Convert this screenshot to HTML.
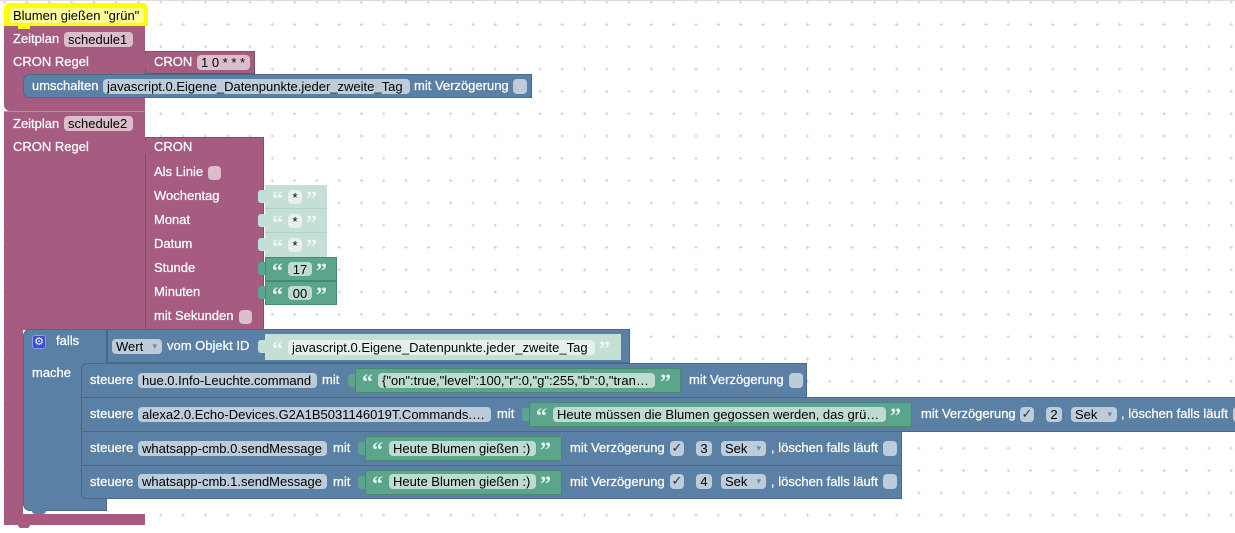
<!DOCTYPE html>
<html><head><meta charset="utf-8">
<style>
html,body{margin:0;padding:0;}
body{width:1235px;height:533px;position:relative;overflow:hidden;background:#fff;font-family:"Liberation Sans",sans-serif;}
.b{position:absolute;box-sizing:border-box;}
.p{background:#a65b80;}
.bl{background:#5b80a5;}
.g{background:#5ba58c;}
.sg{background:#c4dfd5;}
.bd{border:1px solid rgba(0,0,0,.18);}
.t{position:absolute;color:#fff;font-size:13px;line-height:16px;height:16px;white-space:nowrap;-webkit-text-stroke:0.25px #fff;}
.f{position:absolute;box-sizing:border-box;height:15px;border-radius:4px;color:#000;font-size:13px;line-height:15px;padding-left:4px;white-space:nowrap;overflow:hidden;}
.fc{padding-left:0;text-align:center;}
.fp{background:#dbbdcc;}
.fb{background:#bdccdb;}
.fg{background:#bddbd1;}
.fs{background:#e6f1ed;}
.fy{background:#ffff99;}
.q{position:absolute;font:bold 22px/24px "Liberation Serif",serif;color:rgba(255,255,255,.85);height:24px;}
.qs{color:rgba(255,255,255,.75);}
.tab{position:absolute;width:7px;height:13px;border-radius:3px 0 0 3px;}
.cb{position:absolute;box-sizing:border-box;width:14px;height:15px;border-radius:4px;background:#bdccdb;color:#333;font:13px/15px "DejaVu Sans",sans-serif;text-align:center;}
.ar{color:#7a8799;font-size:9px;position:absolute;right:5px;top:0;}
</style></head><body>

<svg width="1235" height="533" style="position:absolute;left:0;top:0">
<defs><pattern id="gr" patternUnits="userSpaceOnUse" x="3.2" y="0.7" width="22.3" height="22.3">
<path d="M0 1.5H3M1.5 0V3" stroke="#cfcfcf" stroke-width="1" fill="none"/></pattern></defs>
<rect width="1235" height="533" fill="url(#gr)"/>
<line x1="0" y1="0.5" x2="1235" y2="0.5" stroke="#dcdcdc"/>
</svg>

<!-- yellow comment -->
<div class="b" style="left:4px;top:3px;width:144px;height:23px;background:#ffff00;border-radius:6px 6px 0 0"></div>
<div class="b" style="left:18px;top:25px;width:12px;height:4px;background:#ffff00"></div>
<div class="f fy" style="left:9px;top:8px;width:135px">Blumen gießen "grün"</div>

<!-- schedule1 -->
<div class="b p" style="left:4px;top:26px;width:141px;height:85px;border-radius:0 0 0 6px"></div>
<div class="b" style="left:18px;top:26px;width:12px;height:3px;background:#ffff00"></div>
<div class="t" style="left:13px;top:31px">Zeitplan</div>
<div class="f fp" style="left:64px;top:32px;width:69px">schedule1</div>
<div class="t" style="left:13px;top:54px">CRON Regel</div>
<div class="b p bd" style="left:145px;top:51px;width:110px;height:23px"></div>
<div class="tab p" style="left:139px;top:55px"></div>
<div class="t" style="left:154px;top:54px">CRON</div>
<div class="f fp" style="left:197px;top:55px;width:53px">1 0 * * *</div>

<div class="b bl bd" style="left:23px;top:74px;width:509px;height:24px;border-radius:7px 0 0 7px"></div>
<div class="t" style="left:32px;top:78px">umschalten</div>
<div class="f fb" style="left:103px;top:79px;width:307px">javascript.0.Eigene_Datenpunkte.jeder_zweite_Tag</div>
<div class="t" style="left:414px;top:78px">mit Verzögerung</div>
<div class="cb" style="left:513px;top:79px"></div>

<!-- schedule2 -->
<div class="b p" style="left:4px;top:112px;width:141px;height:218px"></div>
<div class="b" style="left:4px;top:111px;width:141px;height:1px;background:#c08aa5"></div>
<div class="b p" style="left:4px;top:329px;width:19px;height:196px"></div>
<div class="b p" style="left:4px;top:514px;width:141px;height:11px;border-radius:0 0 0 7px"></div>
<div class="b p" style="left:18px;top:524px;width:12px;height:4px;border-radius:0 0 3px 3px"></div>
<div class="t" style="left:13px;top:116px">Zeitplan</div>
<div class="f fp" style="left:64px;top:116px;width:69px">schedule2</div>
<div class="t" style="left:13px;top:139px">CRON Regel</div>

<div class="b p bd" style="left:145px;top:137px;width:119px;height:193px"></div>
<div class="tab p" style="left:139px;top:141px"></div>
<div class="t" style="left:154px;top:139px">CRON</div>
<div class="t" style="left:154px;top:164px">Als Linie</div>
<div class="cb fp" style="left:208px;top:166px;width:13px;height:14px;background:#dbbdcc"></div>
<div class="t" style="left:154px;top:188px">Wochentag</div>
<div class="t" style="left:154px;top:212px">Monat</div>
<div class="t" style="left:154px;top:236px">Datum</div>
<div class="t" style="left:154px;top:260px">Stunde</div>
<div class="t" style="left:154px;top:284px">Minuten</div>
<div class="t" style="left:154px;top:308px">mit Sekunden</div>
<div class="cb" style="left:239px;top:310px;width:13px;height:14px;background:#dbbdcc"></div>

<!-- shadow text blocks -->
<div class="b sg" style="left:265px;top:185px;width:62px;height:24px;border-bottom:1px solid #b3d2c6"></div>
<div class="tab sg" style="left:258px;top:190px"></div>
<div class="q qs" style="left:272px;top:187px">“</div>
<div class="f fs fc" style="left:288px;top:190px;width:14px;height:14px;line-height:15px">*</div>
<div class="q qs" style="left:306px;top:187px">”</div>

<div class="b sg" style="left:265px;top:209px;width:62px;height:24px;border-bottom:1px solid #b3d2c6"></div>
<div class="tab sg" style="left:258px;top:214px"></div>
<div class="q qs" style="left:272px;top:211px">“</div>
<div class="f fs fc" style="left:288px;top:214px;width:14px;height:14px;line-height:15px">*</div>
<div class="q qs" style="left:306px;top:211px">”</div>

<div class="b sg" style="left:265px;top:233px;width:62px;height:24px"></div>
<div class="tab sg" style="left:258px;top:238px"></div>
<div class="q qs" style="left:272px;top:235px">“</div>
<div class="f fs fc" style="left:288px;top:238px;width:14px;height:14px;line-height:15px">*</div>
<div class="q qs" style="left:306px;top:235px">”</div>

<!-- green text blocks -->
<div class="b g bd" style="left:265px;top:257px;width:72px;height:24px"></div>
<div class="tab g" style="left:258px;top:262px"></div>
<div class="q" style="left:272px;top:259px">“</div>
<div class="f fg fc" style="left:288px;top:262px;width:24px;height:14px;line-height:15px">17</div>
<div class="q" style="left:316px;top:259px">”</div>

<div class="b g bd" style="left:265px;top:281px;width:72px;height:24px"></div>
<div class="tab g" style="left:258px;top:286px"></div>
<div class="q" style="left:272px;top:283px">“</div>
<div class="f fg fc" style="left:288px;top:286px;width:24px;height:14px;line-height:15px">00</div>
<div class="q" style="left:316px;top:283px">”</div>

<!-- falls block -->
<div class="b bl bd" style="left:23px;top:329px;width:84px;height:182px;border-radius:7px 0 0 7px"></div>
<div class="b bl" style="left:32px;top:510px;width:14px;height:4px;border-radius:0 0 3px 3px"></div>
<div class="b" style="left:32px;top:335px;width:14px;height:14px;background:#3b4fd6;border:1px solid #8d9ae6;border-radius:3px;color:#fff;font:11px/12px 'DejaVu Sans',sans-serif;text-align:center">⚙</div>
<div class="t" style="left:56px;top:333px">falls</div>
<div class="t" style="left:32px;top:365px">mache</div>

<div class="b bl bd" style="left:107px;top:329px;width:523px;height:34px"></div>
<div class="f fb" style="left:112px;top:339px;width:50px">Wert<span class="ar">▾</span></div>
<div class="t" style="left:167px;top:338px">vom Objekt ID</div>
<div class="tab sg" style="left:258px;top:340px"></div>
<div class="b sg" style="left:265px;top:334px;width:356px;height:26px"></div>
<div class="q qs" style="left:272px;top:337px">“</div>
<div class="f fs" style="left:288px;top:339.5px;width:307px">javascript.0.Eigene_Datenpunkte.jeder_zweite_Tag</div>
<div class="q qs" style="left:599px;top:337px">”</div>

<!-- row A -->
<div class="b bl bd" style="left:81px;top:363px;width:726px;height:35px;border-radius:6px 0 0 0"></div>
<div class="t" style="left:90px;top:372px">steuere</div>
<div class="f fb" style="left:138px;top:372.5px;width:179px">hue.0.Info-Leuchte.command</div>
<div class="t" style="left:322px;top:372px">mit</div>
<div class="tab g" style="left:348px;top:374px"></div>
<div class="b g bd" style="left:355px;top:368px;width:326px;height:25px"></div>
<div class="q" style="left:362px;top:370px">“</div>
<div class="f fg" style="left:378px;top:372.5px;width:277px">{"on":true,"level":100,"r":0,"g":255,"b":0,"tran…</div>
<div class="q" style="left:660px;top:370px">”</div>
<div class="t" style="left:689px;top:372px">mit Verzögerung</div>
<div class="cb" style="left:789px;top:372.5px"></div>

<!-- row B -->
<div class="b bl bd" style="left:81px;top:397px;width:1170px;height:35px"></div>
<div class="t" style="left:90px;top:406px">steuere</div>
<div class="f fb" style="left:138px;top:406.5px;width:353px">alexa2.0.Echo-Devices.G2A1B5031146019T.Commands.…</div>
<div class="t" style="left:497px;top:406px">mit</div>
<div class="tab g" style="left:522px;top:408px"></div>
<div class="b g bd" style="left:529px;top:402px;width:383px;height:25px"></div>
<div class="q" style="left:536px;top:404px">“</div>
<div class="f fg" style="left:553px;top:406.5px;width:333px">Heute müssen die Blumen gegossen werden, das grü…</div>
<div class="q" style="left:890px;top:404px">”</div>
<div class="t" style="left:921px;top:406px">mit Verzögerung</div>
<div class="cb" style="left:1020px;top:406.5px">✓</div>
<div class="f fb fc" style="left:1046px;top:406.5px;width:16px">2</div>
<div class="f fb" style="left:1071px;top:406.5px;width:46px">Sek<span class="ar">▾</span></div>
<div class="t" style="left:1121px;top:406px">, löschen falls läuft</div>
<div class="cb" style="left:1233px;top:406.5px"></div>

<!-- row C -->
<div class="b bl bd" style="left:81px;top:431px;width:821px;height:35px"></div>
<div class="t" style="left:90px;top:440px">steuere</div>
<div class="f fb" style="left:138px;top:440.5px;width:189px">whatsapp-cmb.0.sendMessage</div>
<div class="t" style="left:333px;top:440px">mit</div>
<div class="tab g" style="left:358px;top:442px"></div>
<div class="b g bd" style="left:365px;top:436px;width:197px;height:25px"></div>
<div class="q" style="left:372px;top:438px">“</div>
<div class="f fg" style="left:389px;top:440.5px;width:147px">Heute Blumen gießen :)</div>
<div class="q" style="left:540px;top:438px">”</div>
<div class="t" style="left:570px;top:440px">mit Verzögerung</div>
<div class="cb" style="left:670px;top:440.5px">✓</div>
<div class="f fb fc" style="left:696px;top:440.5px;width:16px">3</div>
<div class="f fb" style="left:721px;top:440.5px;width:45px">Sek<span class="ar">▾</span></div>
<div class="t" style="left:771px;top:440px">, löschen falls läuft</div>
<div class="cb" style="left:883px;top:440.5px"></div>

<!-- row D -->
<div class="b bl bd" style="left:81px;top:465px;width:821px;height:34px;border-radius:0 0 0 6px"></div>
<div class="t" style="left:90px;top:473.5px">steuere</div>
<div class="f fb" style="left:138px;top:474px;width:189px">whatsapp-cmb.1.sendMessage</div>
<div class="t" style="left:333px;top:473.5px">mit</div>
<div class="tab g" style="left:358px;top:475.5px"></div>
<div class="b g bd" style="left:365px;top:469.5px;width:197px;height:25px"></div>
<div class="q" style="left:372px;top:471.5px">“</div>
<div class="f fg" style="left:389px;top:474px;width:147px">Heute Blumen gießen :)</div>
<div class="q" style="left:540px;top:471.5px">”</div>
<div class="t" style="left:570px;top:473.5px">mit Verzögerung</div>
<div class="cb" style="left:670px;top:474px">✓</div>
<div class="f fb fc" style="left:696px;top:474px;width:16px">4</div>
<div class="f fb" style="left:721px;top:474px;width:45px">Sek<span class="ar">▾</span></div>
<div class="t" style="left:771px;top:473.5px">, löschen falls läuft</div>
<div class="cb" style="left:883px;top:474px"></div>

</body></html>
